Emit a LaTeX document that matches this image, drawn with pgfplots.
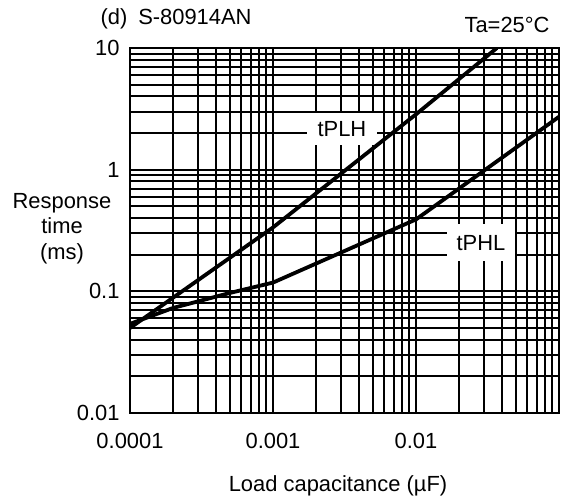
\documentclass[border=0pt]{standalone}
\usepackage{pgfplots}
\pgfplotsset{compat=1.18}
\usepackage{fontspec}
\setmainfont{Liberation Sans}
\begin{document}
\begin{tikzpicture}[font=\fontsize{22}{26}\selectfont, x=1bp, y=1bp]
\path[use as bounding box] (0,0) rectangle (561,502);
\begin{axis}[
  at={(130bp,89bp)}, anchor=south west,
  scale only axis, width=429bp, height=365bp,
  xmode=log, ymode=log,
  xmin=1e-4, xmax=1e-1, ymin=1e-2, ymax=10,
  grid=both,
  major grid style={black, line width=2bp},
  minor grid style={black, line width=2bp},
  axis line style={black, line width=2bp},
  tick style={draw=none},
  /pgf/number format/assume math mode=true,
  xtick={1e-4,1e-3,1e-2},
  xticklabels={0.0001,0.001,0.01},
  ytick={0.01,0.1,1,10},
  yticklabels={0.01,0.1,1,10},
  minor xtick={2e-4,3e-4,4e-4,5e-4,6e-4,7e-4,8e-4,9e-4,2e-3,3e-3,4e-3,5e-3,6e-3,7e-3,8e-3,9e-3,2e-2,3e-2,4e-2,5e-2,6e-2,7e-2,8e-2,9e-2},
  minor ytick={0.02,0.03,0.04,0.05,0.06,0.07,0.08,0.09,0.2,0.3,0.4,0.5,0.6,0.7,0.8,0.9,2,3,4,5,6,7,8,9},
  xticklabel style={yshift=-17bp},
  yticklabel style={xshift=-7bp},
  xlabel={Load capacitance (µF)},
  xlabel style={at={(axis description cs:0.485,-0.2164)}, anchor=base},
  ylabel={Response\\time\\(ms)},
  ylabel style={rotate=-90, align=center, at={(axis description cs:-0.1585,0.505)}, anchor=center},
  clip=true,
]
\node[fill=white, inner sep=0pt, minimum width=70bp, minimum height=32bp] at (rel axis cs:0.494,0.778) {tPLH};
\node[fill=white, inner sep=0pt, minimum width=68bp, minimum height=37bp] at (rel axis cs:0.818,0.466) {tPHL};
\addplot[black, line width=3.8bp] coordinates {
  (1e-4,0.050) (1e-3,0.335) (1e-2,2.85) (0.0368,10)
};
\addplot[black, line width=3.8bp] coordinates {
  (1e-4,0.054) (2e-4,0.073) (5e-4,0.097) (1e-3,0.118) (1e-2,0.39) (0.1,2.72)
};
\end{axis}
\node[anchor=base west] at (97,477) {(d)\hspace{0.5em}S-80914AN};
\node[anchor=base east] at (553,469) {Ta=25°C};
\end{tikzpicture}
\end{document}
